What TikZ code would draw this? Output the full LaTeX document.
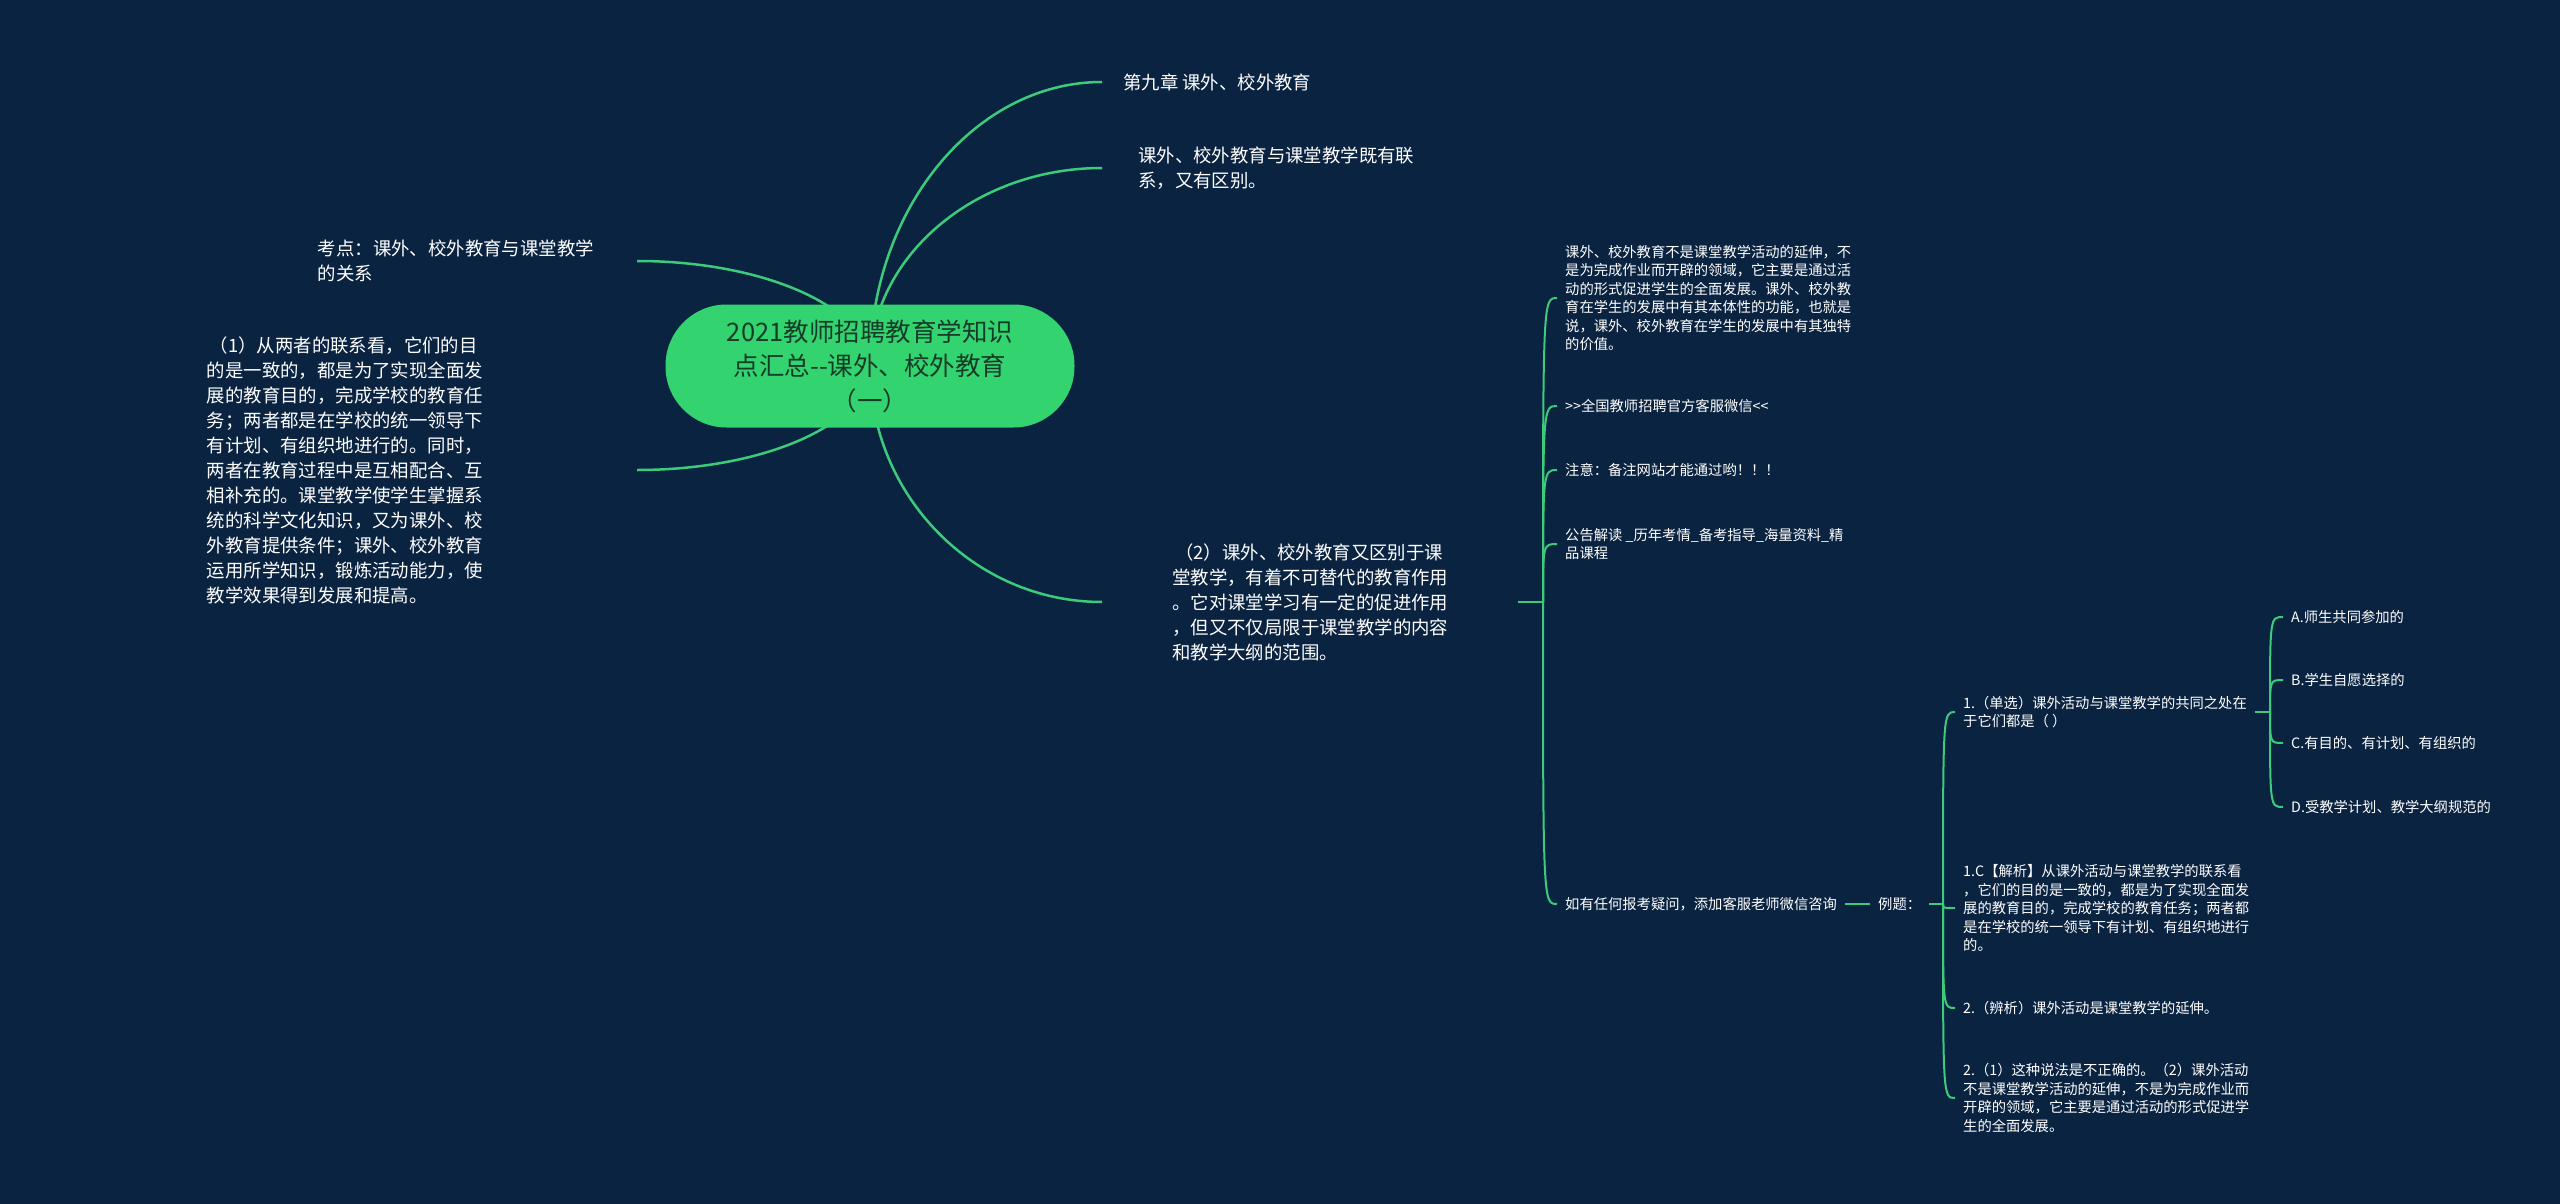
\documentclass[tikz,border=0pt]{standalone}
\usepackage{fontspec}
\setmainfont{Noto Sans CJK SC}
\usetikzlibrary{calc}
\definecolor{navy}{HTML}{0A2341}
\definecolor{limbgreen}{HTML}{3CCB7A}
\definecolor{rootgreen}{HTML}{33D46F}
\definecolor{rootink}{HTML}{143C28}
\pgfdeclarelayer{bg}
\pgfdeclarelayer{links}
\pgfsetlayers{bg,links,main}
\tikzset{
  rootnode/.style={fill=rootgreen, rounded corners=61pt, minimum width=409pt, minimum height=123pt, align=center, text=rootink, font={\fontsize{25.5pt}{34.5pt}\selectfont}},
  bigtxt/.style={text=white, align=left, font={\fontsize{18.4pt}{25pt}\selectfont}},
  smalltxt/.style={text=white, align=left, anchor=west, inner xsep=8pt, font={\fontsize{14.3pt}{18.5pt}\selectfont}},
  limb/.style={limbgreen, line width=2.5pt},
  twig/.style={limbgreen, line width=2pt}
}
\begin{document}
\begin{tikzpicture}[x=1pt, y=-1pt]
  \useasboundingbox (0,0) rectangle (2560,1204);
  \begin{pgfonlayer}{bg}
    \fill[navy] (0,0) rectangle (2560,1204);
  \end{pgfonlayer}

  \node[rootnode] (root) at (870,366) {2021教师招聘教育学知识\\点汇总-\kern0pt-课外、校外教育\\（一）};

  \node[bigtxt, anchor=west, inner xsep=21pt] (ch9) at (1102,82) {第九章 课外、校外教育};
  \node[bigtxt, anchor=west, inner xsep=36pt] (link) at (1102,168) {课外、校外教育与课堂教学既有联\\系，又有区别。};
  \node[bigtxt, anchor=east, inner xsep=43pt] (exam) at (637,261) {考点：课外、校外教育与课堂教学\\的关系};
  \node[bigtxt, anchor=east, inner xsep=154pt] (same) at (637,470) {\,（1）从两者的联系看，它们的目\\的是一致的，都是为了实现全面发\\展的教育目的，完成学校的教育任\\务；两者都是在学校的统一领导下\\有计划、有组织地进行的。同时，\\两者在教育过程中是互相配合、互\\相补充的。课堂教学使学生掌握系\\统的科学文化知识，又为课外、校\\外教育提供条件；课外、校外教育\\运用所学知识，锻炼活动能力，使\\教学效果得到发展和提高。};
  \node[bigtxt, anchor=west, inner xsep=70pt] (diff) at (1102,602) {\,（2）课外、校外教育又区别于课\\堂教学，有着不可替代的教育作用\\。它对课堂学习有一定的促进作用\\，但又不仅局限于课堂教学的内容\\和教学大纲的范围。};

  \node[smalltxt] (nat) at (1557,298) {课外、校外教育不是课堂教学活动的延伸，不\\是为完成作业而开辟的领域，它主要是通过活\\动的形式促进学生的全面发展。课外、校外教\\育在学生的发展中有其本体性的功能，也就是\\说，课外、校外教育在学生的发展中有其独特\\的价值。};
  \node[smalltxt] (wx) at (1557,406) {>\kern0pt>全国教师招聘官方客服微信<\kern0pt<};
  \node[smalltxt] (note) at (1557,470) {注意：备注网站才能通过哟！！！};
  \node[smalltxt] (ad) at (1557,544) {公告解读 \_历年考情\_备考指导\_海量资料\_精\\品课程};
  \node[smalltxt] (ask) at (1557,904) {如有任何报考疑问，添加客服老师微信咨询};
  \node[smalltxt] (ex) at (1870,904) {例题：};

  \node[smalltxt] (q1) at (1955,712) {1.（单选）课外活动与课堂教学的共同之处在\\于它们都是（ ）};
  \node[smalltxt] (ans1) at (1955,908) {1.C【解析】从课外活动与课堂教学的联系看\\，它们的目的是一致的，都是为了实现全面发\\展的教育目的，完成学校的教育任务；两者都\\是在学校的统一领导下有计划、有组织地进行\\的。};
  \node[smalltxt] (q2) at (1955,1008) {2.（辨析）课外活动是课堂教学的延伸。};
  \node[smalltxt] (ans2) at (1955,1098) {2.（1）这种说法是不正确的。（2）课外活动\\不是课堂教学活动的延伸，不是为完成作业而\\开辟的领域，它主要是通过活动的形式促进学\\生的全面发展。};

  \node[smalltxt] (optA) at (2283,617) {A.师生共同参加的};
  \node[smalltxt] (optB) at (2283,680) {B.学生自愿选择的};
  \node[smalltxt] (optC) at (2283,743) {C.有目的、有计划、有组织的};
  \node[smalltxt] (optD) at (2283,807) {D.受教学计划、教学大纲规范的};

  \coordinate (hubA) at (1543,602);
  \coordinate (hubB) at (1943,904);
  \coordinate (hubC) at (2270,712);

  \begin{pgfonlayer}{links}
    \foreach \k in {ch9,link,diff}
      \draw[limb] (root.center) .. controls ($(root.center)!0.55!(root.center |- \k.west)$) and ($(\k.west)!0.55!(root.center |- \k.west)$) .. (\k.west);
    \foreach \k in {exam,same}
      \draw[limb] (root.center) .. controls ($(root.center)!0.55!(root.center |- \k.east)$) and ($(\k.east)!0.55!(root.center |- \k.east)$) .. (\k.east);
    \draw[twig] (diff.east) -- (hubA);
    \foreach \k in {nat,wx,note,ad,ask}
      \draw[twig] (hubA) .. controls (hubA |- \k.west) .. (\k.west);
    \draw[twig] (ask.east) -- (ex.west);
    \draw[twig] (ex.east) -- (hubB);
    \foreach \k in {q1,ans1,q2,ans2}
      \draw[twig] (hubB) .. controls (hubB |- \k.west) .. (\k.west);
    \draw[twig] (q1.east) -- (hubC);
    \foreach \k in {optA,optB,optC,optD}
      \draw[twig] (hubC) .. controls (hubC |- \k.west) .. (\k.west);
  \end{pgfonlayer}
\end{tikzpicture}
\end{document}
